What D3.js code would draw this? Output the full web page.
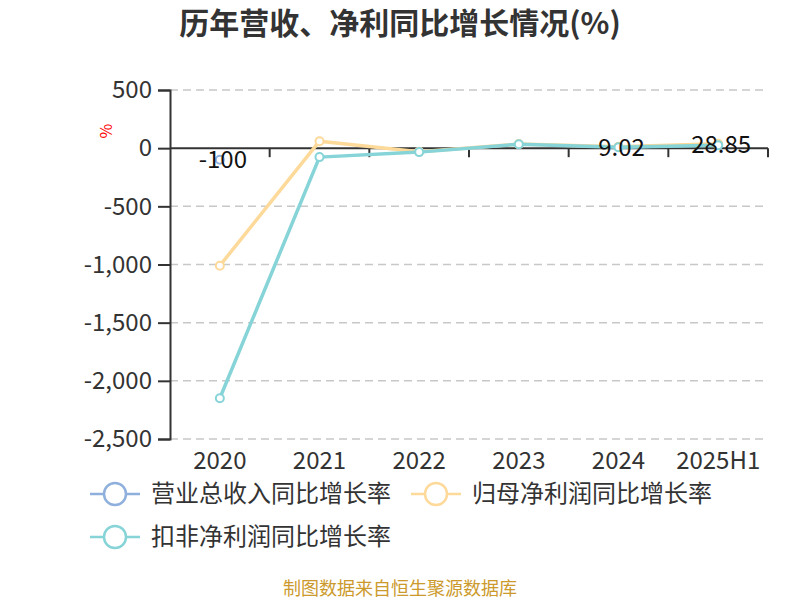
<!DOCTYPE html>
<html>
<head>
<meta charset="utf-8">
<script src="https://cdn.jsdelivr.net/npm/d3@7"></script>
<style>
  body { margin: 0; background: #fff; }
  text { font-family: "Noto Sans CJK SC", "Noto Sans", sans-serif; }
</style>
</head>
<body>
<div id="chart"></div>
<script>
// chart data
let years = ["2020", "2021", "2022", "2023", "2024", "2025H1"];
let revenueGrowth = [-100, null, null, null, 9.02, 28.85];
let netProfitGrowth = [-1010, 60, -30, 35, 12, 38];
let deductedProfitGrowth = [-2150, -77, -34, 34, 8, 26];
let yTicks = [500, 0, -500, -1000, -1500, -2000, -2500];
let seriesNames = ["营业总收入同比增长率", "归母净利润同比增长率", "扣非净利润同比增长率"];
let seriesColors = ["#8fb0dd", "#fdd99a", "#86d4d8"];
let labelValues = [-100, null, null, null, 9.02, 28.85];

// hyphen minus like the source chart
let fmt = d => d3.format(",")(d).replace("\u2212", "-");

let svg = d3.select("#chart").append("svg")
    .attr("width", 800)
    .attr("height", 600);

svg.append("text")
    .attr("x", 400)
    .attr("y", 34)
    .attr("text-anchor", "middle")
    .style("font-size", "30px")
    .style("font-weight", "bold")
    .attr("fill", "#333")
    .text("历年营收、净利同比增长情况(%)");

let x = d3.scaleBand()
    .domain(years)
    .range([170, 768]);
let y = d3.scaleLinear()
    .domain([-2500, 500])
    .range([439, 90]);

// grid
svg.append("g")
    .selectAll("line")
    .data(yTicks.filter(d => d != 0))
    .enter()
    .append("line")
    .attr("x1", 170)
    .attr("x2", 768)
    .attr("y1", d => y(d))
    .attr("y2", d => y(d))
    .attr("stroke", "#c8c8c8")
    .attr("stroke-width", 1.5)
    .attr("stroke-dasharray", "8,5");

// y axis
let yAxis = d3.axisLeft(y)
    .tickValues(yTicks)
    .tickSize(12)
    .tickPadding(6)
    .tickFormat(fmt);
let yG = svg.append("g")
    .attr("transform", "translate(170,0)")
    .call(yAxis);
yG.select(".domain").attr("stroke", "#333").attr("stroke-width", 2);
yG.selectAll(".tick line").attr("stroke", "#333").attr("stroke-width", 2);
yG.selectAll(".tick text")
    .style("font-size", "24px")
    .style("font-family", "'Noto Sans CJK SC', sans-serif")
    .attr("fill", "#333");

// x axis on zero line
let x0 = y(0);
svg.append("line")
    .attr("x1", 170)
    .attr("x2", 768)
    .attr("y1", x0)
    .attr("y2", x0)
    .attr("stroke", "#333")
    .attr("stroke-width", 2);
let bounds = years.map(d => x(d)).concat([x.range()[1]]);
svg.append("g")
    .selectAll("line")
    .data(bounds.slice(1))
    .enter()
    .append("line")
    .attr("x1", d => d)
    .attr("x2", d => d)
    .attr("y1", x0)
    .attr("y2", x0 + 9)
    .attr("stroke", "#333")
    .attr("stroke-width", 2);

let xAxis = d3.axisBottom(x).tickSize(0).tickPadding(11);
let xG = svg.append("g")
    .attr("transform", "translate(0,441)")
    .call(xAxis);
xG.select(".domain").remove();
xG.selectAll(".tick text")
    .style("font-size", "24px")
    .style("font-family", "'Noto Sans CJK SC', sans-serif")
    .attr("fill", "#333");

// unit label
svg.append("text")
    .attr("transform", "translate(106,131) rotate(-90)")
    .attr("text-anchor", "middle")
    .attr("dy", "0.35em")
    .style("font-size", "16px")
    .attr("fill", "red")
    .text("%");

// series
let allSeries = [revenueGrowth, netProfitGrowth, deductedProfitGrowth];
let line = d3.line()
    .defined(d => d.v != null)
    .x(d => x(d.year) + x.bandwidth() / 2)
    .y(d => y(d.v));

allSeries.forEach(function(values, i) {
    let pts = years.map((yr, j) => ({year: yr, v: values[j]}));
    svg.append("path")
        .datum(pts)
        .attr("d", line)
        .attr("fill", "none")
        .attr("stroke", seriesColors[i])
        .attr("stroke-width", 3.5)
        .attr("stroke-linejoin", "round");
    svg.append("g")
        .selectAll("circle")
        .data(pts.filter(d => d.v != null))
        .enter()
        .append("circle")
        .attr("cx", d => x(d.year) + x.bandwidth() / 2)
        .attr("cy", d => y(d.v))
        .attr("r", 4)
        .attr("fill", "#fff")
        .attr("stroke", seriesColors[i])
        .attr("stroke-width", 2);
});

// value labels
let labels = years.map((yr, j) => ({year: yr, v: labelValues[j]})).filter(d => d.v != null);
svg.append("g")
    .selectAll("text")
    .data(labels)
    .enter()
    .append("text")
    .attr("x", d => x(d.year) + x.bandwidth() / 2 + 3)
    .attr("y", d => y(d.v))
    .attr("dy", "0.35em")
    .attr("text-anchor", "middle")
    .style("font-size", "24px")
    .attr("fill", "#111")
    .text(d => fmt(d.v));

// legend
let legendPos = [[90, 494], [411, 494], [90, 537]];
seriesNames.forEach(function(name, i) {
    let g = svg.append("g")
        .attr("transform", "translate(" + legendPos[i][0] + "," + legendPos[i][1] + ")");
    g.append("line")
        .attr("x1", 0)
        .attr("x2", 50)
        .attr("stroke", seriesColors[i])
        .attr("stroke-width", 2.5);
    g.append("circle")
        .attr("cx", 25)
        .attr("r", 11)
        .attr("fill", "#fff")
        .attr("stroke", seriesColors[i])
        .attr("stroke-width", 2.5);
    g.append("text")
        .attr("x", 61)
        .attr("dy", "0.35em")
        .style("font-size", "24px")
        .attr("fill", "#333")
        .text(name);
});

svg.append("text")
    .attr("x", 400)
    .attr("y", 589)
    .attr("dy", "0.35em")
    .attr("text-anchor", "middle")
    .style("font-size", "18px")
    .attr("fill", "#cc9a2c")
    .text("制图数据来自恒生聚源数据库");
</script>
</body>
</html>
